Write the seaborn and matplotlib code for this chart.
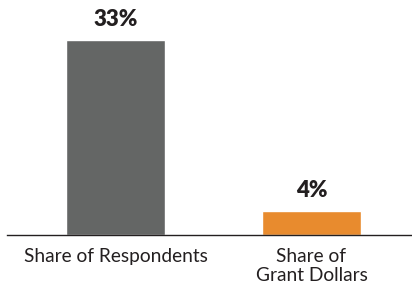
import matplotlib
matplotlib.use("Agg")
import matplotlib.pyplot as plt
import seaborn as sns
import pandas as pd

categories = ["Share of Respondents", "Share of\nGrant Dollars"]
values = [33, 4]
value_labels = ["33%", "4%"]
colors = ["#646665", "#E88B2E"]

sns.set_theme(style="white")
plt.rcParams['font.family'] = ['Lato', 'DejaVu Sans']

df = pd.DataFrame({"cat": categories, "val": values})

fig = plt.figure(figsize=(4.12, 2.85), dpi=100)
ax = fig.add_axes([7/412, 50.5/285, 404/412, 234.5/285])
sns.barplot(data=df, x="cat", y="val", hue="cat", palette=colors, width=0.505,
            legend=False, ax=ax, saturation=1)

ax.set_xlim(-0.554, 1.508)
ax.set_ylim(0, 39.79)
for c, lab in zip(ax.containers, value_labels):
    ax.bar_label(c, labels=[lab], padding=7, fontsize=16, fontweight='heavy', color='#231f20')

for s in ["top", "right", "left"]:
    ax.spines[s].set_visible(False)
ax.spines["bottom"].set_color("#231f20")
ax.spines["bottom"].set_linewidth(1.0)
ax.set_yticks([])
ax.set_xlabel("")
ax.set_ylabel("")
ax.tick_params(axis='x', length=0, pad=10, labelsize=13.8, labelcolor='#231f20')
for t in ax.get_xticklabels():
    t.set_linespacing(1.12)

fig.savefig("out.png", dpi=100)
